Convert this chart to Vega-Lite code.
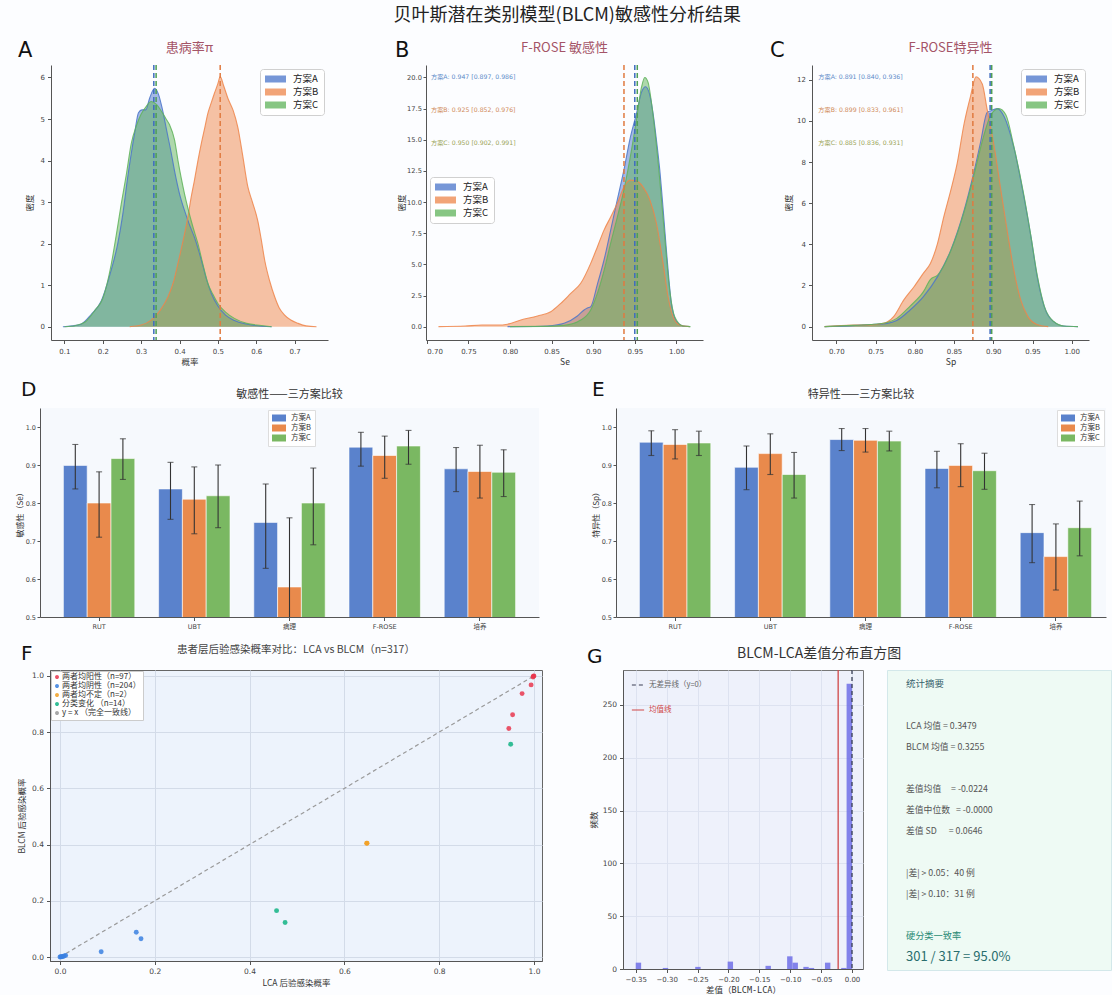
{
"$schema": "https://vega.github.io/schema/vega-lite/v6.json",
"background": "#fcfdff",
"padding": {"left": 15, "top": 7, "right": 0, "bottom": 0},
"title": {"text": "贝叶斯潜在类别模型(BLCM)敏感性分析结果", "font": "Noto Sans CJK SC", "fontSize": 18, "fontWeight": "normal", "color": "#222", "anchor": "middle", "offset": 15, "dx": 4},
"spacing": 14,
"resolve": {"scale": {"color": "independent", "stroke": "independent", "fill": "independent", "strokeDash": "independent", "size": "independent", "xOffset": "independent"}},
"config": {
  "view": {"stroke": null},
  "font": "DejaVu Sans, Noto Sans CJK SC",
  "axis": {"labelFont": "DejaVu Sans, Noto Sans CJK SC", "titleFont": "Noto Sans CJK SC", "labelFontSize": 7, "titleFontSize": 8.5, "titleFontWeight": "normal", "labelColor": "#444", "titleColor": "#333", "domainColor": "#555", "tickColor": "#555", "tickSize": 3.5, "grid": false, "labelPadding": 3, "titlePadding": 3},
  "title": {"font": "Noto Sans CJK SC", "fontWeight": "normal"},
  "legend": {"labelFont": "Noto Sans CJK SC", "titleFont": "Noto Sans CJK SC"}
},
"datasets": {
  "dA": [
    {"s":"方案A","x":0.096,"y":0},{"s":"方案A","x":0.12,"y":0.02},{"s":"方案A","x":0.143,"y":0.06},{"s":"方案A","x":0.17,"y":0.3},{"s":"方案A","x":0.196,"y":0.62},{"s":"方案A","x":0.22,"y":1.3},{"s":"方案A","x":0.239,"y":2.0},{"s":"方案A","x":0.252,"y":2.7},{"s":"方案A","x":0.265,"y":3.6},{"s":"方案A","x":0.283,"y":4.66},{"s":"方案A","x":0.293,"y":5.15},{"s":"方案A","x":0.302,"y":5.22},{"s":"方案A","x":0.312,"y":5.22},{"s":"方案A","x":0.322,"y":5.5},{"s":"方案A","x":0.335,"y":5.74},{"s":"方案A","x":0.345,"y":5.6},{"s":"方案A","x":0.355,"y":5.25},{"s":"方案A","x":0.367,"y":4.7},{"s":"方案A","x":0.378,"y":4.2},{"s":"方案A","x":0.387,"y":3.75},{"s":"方案A","x":0.4,"y":3.2},{"s":"方案A","x":0.413,"y":2.8},{"s":"方案A","x":0.426,"y":2.45},{"s":"方案A","x":0.439,"y":2.15},{"s":"方案A","x":0.457,"y":1.6},{"s":"方案A","x":0.47,"y":1.15},{"s":"方案A","x":0.483,"y":0.8},{"s":"方案A","x":0.5,"y":0.5},{"s":"方案A","x":0.52,"y":0.28},{"s":"方案A","x":0.543,"y":0.15},{"s":"方案A","x":0.57,"y":0.07},{"s":"方案A","x":0.596,"y":0.03},{"s":"方案A","x":0.64,"y":0},
    {"s":"方案B","x":0.27,"y":0},{"s":"方案B","x":0.3,"y":0.04},{"s":"方案B","x":0.326,"y":0.16},{"s":"方案B","x":0.35,"y":0.4},{"s":"方案B","x":0.37,"y":0.72},{"s":"方案B","x":0.385,"y":1.1},{"s":"方案B","x":0.396,"y":1.53},{"s":"方案B","x":0.41,"y":2.1},{"s":"方案B","x":0.422,"y":2.65},{"s":"方案B","x":0.43,"y":3.1},{"s":"方案B","x":0.439,"y":3.53},{"s":"方案B","x":0.448,"y":4.0},{"s":"方案B","x":0.457,"y":4.42},{"s":"方案B","x":0.466,"y":4.8},{"s":"方案B","x":0.474,"y":5.14},{"s":"方案B","x":0.483,"y":5.4},{"s":"方案B","x":0.491,"y":5.62},{"s":"方案B","x":0.5,"y":5.85},{"s":"方案B","x":0.506,"y":6.02},{"s":"方案B","x":0.515,"y":5.8},{"s":"方案B","x":0.526,"y":5.5},{"s":"方案B","x":0.54,"y":5.2},{"s":"方案B","x":0.552,"y":4.8},{"s":"方案B","x":0.565,"y":4.1},{"s":"方案B","x":0.578,"y":3.37},{"s":"方案B","x":0.59,"y":3.0},{"s":"方案B","x":0.604,"y":2.55},{"s":"方案B","x":0.613,"y":2.1},{"s":"方案B","x":0.622,"y":1.6},{"s":"方案B","x":0.635,"y":1.1},{"s":"方案B","x":0.648,"y":0.72},{"s":"方案B","x":0.66,"y":0.45},{"s":"方案B","x":0.674,"y":0.28},{"s":"方案B","x":0.69,"y":0.16},{"s":"方案B","x":0.709,"y":0.08},{"s":"方案B","x":0.73,"y":0.02},{"s":"方案B","x":0.757,"y":0},
    {"s":"方案C","x":0.1,"y":0},{"s":"方案C","x":0.13,"y":0.03},{"s":"方案C","x":0.155,"y":0.12},{"s":"方案C","x":0.18,"y":0.4},{"s":"方案C","x":0.2,"y":0.68},{"s":"方案C","x":0.222,"y":1.5},{"s":"方案C","x":0.235,"y":2.2},{"s":"方案C","x":0.248,"y":2.95},{"s":"方案C","x":0.262,"y":3.7},{"s":"方案C","x":0.274,"y":4.4},{"s":"方案C","x":0.288,"y":4.85},{"s":"方案C","x":0.3,"y":5.12},{"s":"方案C","x":0.313,"y":5.3},{"s":"方案C","x":0.326,"y":5.42},{"s":"方案C","x":0.34,"y":5.35},{"s":"方案C","x":0.352,"y":5.2},{"s":"方案C","x":0.365,"y":5.0},{"s":"方案C","x":0.374,"y":4.86},{"s":"方案C","x":0.387,"y":4.5},{"s":"方案C","x":0.396,"y":4.0},{"s":"方案C","x":0.404,"y":3.6},{"s":"方案C","x":0.413,"y":3.2},{"s":"方案C","x":0.422,"y":2.85},{"s":"方案C","x":0.435,"y":2.4},{"s":"方案C","x":0.448,"y":2.0},{"s":"方案C","x":0.461,"y":1.5},{"s":"方案C","x":0.474,"y":1.04},{"s":"方案C","x":0.487,"y":0.78},{"s":"方案C","x":0.5,"y":0.56},{"s":"方案C","x":0.52,"y":0.35},{"s":"方案C","x":0.543,"y":0.2},{"s":"方案C","x":0.575,"y":0.08},{"s":"方案C","x":0.613,"y":0.03},{"s":"方案C","x":0.64,"y":0}
  ],
  "dB": [
    {"s":"方案A","x":0.797,"y":0},{"s":"方案A","x":0.83,"y":0.01},{"s":"方案A","x":0.845,"y":0.05},{"s":"方案A","x":0.865,"y":0.27},{"s":"方案A","x":0.881,"y":0.86},{"s":"方案A","x":0.889,"y":1.34},{"s":"方案A","x":0.893,"y":1.5},{"s":"方案A","x":0.897,"y":1.6},{"s":"方案A","x":0.905,"y":3.4},{"s":"方案A","x":0.913,"y":5.35},{"s":"方案A","x":0.921,"y":7.75},{"s":"方案A","x":0.929,"y":10.2},{"s":"方案A","x":0.937,"y":12.6},{"s":"方案A","x":0.944,"y":15.0},{"s":"方案A","x":0.952,"y":17.1},{"s":"方案A","x":0.958,"y":18.8},{"s":"方案A","x":0.963,"y":19.25},{"s":"方案A","x":0.968,"y":18.6},{"s":"方案A","x":0.972,"y":17.1},{"s":"方案A","x":0.976,"y":15.0},{"s":"方案A","x":0.98,"y":12.6},{"s":"方案A","x":0.984,"y":9.5},{"s":"方案A","x":0.988,"y":6.15},{"s":"方案A","x":0.991,"y":3.8},{"s":"方案A","x":0.994,"y":1.87},{"s":"方案A","x":0.997,"y":0.9},{"s":"方案A","x":1.0,"y":0.4},{"s":"方案A","x":1.008,"y":0.05},{"s":"方案A","x":1.016,"y":0},
    {"s":"方案B","x":0.714,"y":0},{"s":"方案B","x":0.746,"y":0.05},{"s":"方案B","x":0.766,"y":0.13},{"s":"方案B","x":0.785,"y":0.13},{"s":"方案B","x":0.797,"y":0.2},{"s":"方案B","x":0.813,"y":0.53},{"s":"方案B","x":0.833,"y":0.86},{"s":"方案B","x":0.849,"y":1.2},{"s":"方案B","x":0.861,"y":1.87},{"s":"方案B","x":0.873,"y":2.67},{"s":"方案B","x":0.885,"y":3.48},{"s":"方案B","x":0.897,"y":5.08},{"s":"方案B","x":0.905,"y":6.4},{"s":"方案B","x":0.913,"y":7.75},{"s":"方案B","x":0.921,"y":8.8},{"s":"方案B","x":0.929,"y":9.9},{"s":"方案B","x":0.937,"y":11.2},{"s":"方案B","x":0.944,"y":11.76},{"s":"方案B","x":0.952,"y":11.7},{"s":"方案B","x":0.96,"y":11.2},{"s":"方案B","x":0.968,"y":10.2},{"s":"方案B","x":0.976,"y":8.3},{"s":"方案B","x":0.984,"y":5.1},{"s":"方案B","x":0.99,"y":2.4},{"s":"方案B","x":0.996,"y":0.8},{"s":"方案B","x":1.004,"y":0.13},{"s":"方案B","x":1.016,"y":0},
    {"s":"方案C","x":0.8,"y":0},{"s":"方案C","x":0.84,"y":0.02},{"s":"方案C","x":0.865,"y":0.1},{"s":"方案C","x":0.885,"y":0.53},{"s":"方案C","x":0.897,"y":1.34},{"s":"方案C","x":0.905,"y":2.67},{"s":"方案C","x":0.913,"y":4.5},{"s":"方案C","x":0.921,"y":6.7},{"s":"方案C","x":0.929,"y":8.8},{"s":"方案C","x":0.937,"y":11.0},{"s":"方案C","x":0.944,"y":13.4},{"s":"方案C","x":0.952,"y":16.6},{"s":"方案C","x":0.958,"y":19.2},{"s":"方案C","x":0.962,"y":20.0},{"s":"方案C","x":0.966,"y":19.6},{"s":"方案C","x":0.97,"y":18.0},{"s":"方案C","x":0.974,"y":15.8},{"s":"方案C","x":0.98,"y":11.8},{"s":"方案C","x":0.986,"y":7.2},{"s":"方案C","x":0.992,"y":2.9},{"s":"方案C","x":0.998,"y":0.8},{"s":"方案C","x":1.008,"y":0.05},{"s":"方案C","x":1.017,"y":0}
  ],
  "dC": [
    {"s":"方案A","x":0.685,"y":0},{"s":"方案A","x":0.72,"y":0.05},{"s":"方案A","x":0.743,"y":0.1},{"s":"方案A","x":0.765,"y":0.16},{"s":"方案A","x":0.777,"y":0.3},{"s":"方案A","x":0.794,"y":0.81},{"s":"方案A","x":0.811,"y":1.46},{"s":"方案A","x":0.829,"y":2.43},{"s":"方案A","x":0.846,"y":3.73},{"s":"方案A","x":0.863,"y":5.67},{"s":"方案A","x":0.875,"y":7.46},{"s":"方案A","x":0.884,"y":9.0},{"s":"方案A","x":0.892,"y":10.4},{"s":"方案A","x":0.897,"y":10.5},{"s":"方案A","x":0.905,"y":10.6},{"s":"方案A","x":0.914,"y":10.2},{"s":"方案A","x":0.926,"y":8.75},{"s":"方案A","x":0.939,"y":6.32},{"s":"方案A","x":0.948,"y":4.38},{"s":"方案A","x":0.956,"y":2.43},{"s":"方案A","x":0.965,"y":0.97},{"s":"方案A","x":0.977,"y":0.24},{"s":"方案A","x":0.99,"y":0.03},{"s":"方案A","x":1.008,"y":0},
    {"s":"方案B","x":0.685,"y":0},{"s":"方案B","x":0.722,"y":0.08},{"s":"方案B","x":0.743,"y":0.08},{"s":"方案B","x":0.76,"y":0.16},{"s":"方案B","x":0.773,"y":0.49},{"s":"方案B","x":0.786,"y":1.3},{"s":"方案B","x":0.799,"y":1.94},{"s":"方案B","x":0.811,"y":2.6},{"s":"方案B","x":0.82,"y":3.08},{"s":"方案B","x":0.829,"y":4.05},{"s":"方案B","x":0.837,"y":5.35},{"s":"方案B","x":0.846,"y":6.65},{"s":"方案B","x":0.854,"y":7.94},{"s":"方案B","x":0.863,"y":9.9},{"s":"方案B","x":0.871,"y":11.2},{"s":"方案B","x":0.878,"y":12.15},{"s":"方案B","x":0.886,"y":11.8},{"s":"方案B","x":0.892,"y":10.6},{"s":"方案B","x":0.901,"y":8.8},{"s":"方案B","x":0.909,"y":6.8},{"s":"方案B","x":0.918,"y":4.6},{"s":"方案B","x":0.926,"y":2.8},{"s":"方案B","x":0.935,"y":1.3},{"s":"方案B","x":0.944,"y":0.5},{"s":"方案B","x":0.955,"y":0.12},{"s":"方案B","x":0.97,"y":0},
    {"s":"方案C","x":0.685,"y":0},{"s":"方案C","x":0.72,"y":0.06},{"s":"方案C","x":0.743,"y":0.1},{"s":"方案C","x":0.765,"y":0.2},{"s":"方案C","x":0.777,"y":0.4},{"s":"方案C","x":0.794,"y":1.0},{"s":"方案C","x":0.811,"y":1.7},{"s":"方案C","x":0.82,"y":2.3},{"s":"方案C","x":0.829,"y":2.5},{"s":"方案C","x":0.846,"y":3.7},{"s":"方案C","x":0.863,"y":5.6},{"s":"方案C","x":0.875,"y":7.3},{"s":"方案C","x":0.888,"y":9.3},{"s":"方案C","x":0.897,"y":10.3},{"s":"方案C","x":0.907,"y":10.6},{"s":"方案C","x":0.916,"y":10.3},{"s":"方案C","x":0.926,"y":8.8},{"s":"方案C","x":0.939,"y":6.4},{"s":"方案C","x":0.948,"y":4.4},{"s":"方案C","x":0.956,"y":2.5},{"s":"方案C","x":0.965,"y":1.0},{"s":"方案C","x":0.977,"y":0.25},{"s":"方案C","x":0.99,"y":0.03},{"s":"方案C","x":1.008,"y":0}
  ],
  "mA": [{"s":"方案A","x":0.333},{"s":"方案B","x":0.506},{"s":"方案C","x":0.339}],
  "mB": [{"s":"方案A","x":0.95},{"s":"方案B","x":0.937},{"s":"方案C","x":0.953}],
  "mC": [{"s":"方案A","x":0.896},{"s":"方案B","x":0.874},{"s":"方案C","x":0.898}],
  "tB": [{"s":"方案A","label":"方案A: 0.947 [0.897, 0.986]"},{"s":"方案B","label":"方案B: 0.925 [0.852, 0.976]"},{"s":"方案C","label":"方案C: 0.950 [0.902, 0.991]"}],
  "tC": [{"s":"方案A","label":"方案A: 0.891 [0.840, 0.936]"},{"s":"方案B","label":"方案B: 0.899 [0.833, 0.961]"},{"s":"方案C","label":"方案C: 0.885 [0.836, 0.931]"}],
  "se": [
    {"cat":"RUT","s":"方案A","v":0.899,"lo":0.837,"hi":0.954},{"cat":"RUT","s":"方案B","v":0.8,"lo":0.71,"hi":0.882},{"cat":"RUT","s":"方案C","v":0.917,"lo":0.862,"hi":0.969},
    {"cat":"UBT","s":"方案A","v":0.837,"lo":0.757,"hi":0.907},{"cat":"UBT","s":"方案B","v":0.81,"lo":0.719,"hi":0.895},{"cat":"UBT","s":"方案C","v":0.819,"lo":0.735,"hi":0.9},
    {"cat":"病理","s":"方案A","v":0.749,"lo":0.628,"hi":0.85},{"cat":"病理","s":"方案B","v":0.579,"lo":0.4,"hi":0.761},{"cat":"病理","s":"方案C","v":0.8,"lo":0.69,"hi":0.892},
    {"cat":"F-ROSE","s":"方案A","v":0.947,"lo":0.897,"hi":0.986},{"cat":"F-ROSE","s":"方案B","v":0.925,"lo":0.865,"hi":0.976},{"cat":"F-ROSE","s":"方案C","v":0.95,"lo":0.902,"hi":0.991},
    {"cat":"培养","s":"方案A","v":0.89,"lo":0.83,"hi":0.946},{"cat":"培养","s":"方案B","v":0.883,"lo":0.813,"hi":0.952},{"cat":"培养","s":"方案C","v":0.881,"lo":0.817,"hi":0.94}
  ],
  "sp": [
    {"cat":"RUT","s":"方案A","v":0.96,"lo":0.925,"hi":0.99},{"cat":"RUT","s":"方案B","v":0.954,"lo":0.916,"hi":0.993},{"cat":"RUT","s":"方案C","v":0.958,"lo":0.925,"hi":0.989},
    {"cat":"UBT","s":"方案A","v":0.894,"lo":0.835,"hi":0.95},{"cat":"UBT","s":"方案B","v":0.93,"lo":0.875,"hi":0.982},{"cat":"UBT","s":"方案C","v":0.875,"lo":0.813,"hi":0.933},
    {"cat":"病理","s":"方案A","v":0.967,"lo":0.938,"hi":0.996},{"cat":"病理","s":"方案B","v":0.965,"lo":0.934,"hi":0.996},{"cat":"病理","s":"方案C","v":0.963,"lo":0.937,"hi":0.989},
    {"cat":"F-ROSE","s":"方案A","v":0.891,"lo":0.84,"hi":0.936},{"cat":"F-ROSE","s":"方案B","v":0.899,"lo":0.843,"hi":0.956},{"cat":"F-ROSE","s":"方案C","v":0.885,"lo":0.836,"hi":0.931},
    {"cat":"培养","s":"方案A","v":0.722,"lo":0.643,"hi":0.796},{"cat":"培养","s":"方案B","v":0.659,"lo":0.571,"hi":0.745},{"cat":"培养","s":"方案C","v":0.735,"lo":0.661,"hi":0.805}
  ],
  "pts": [
    {"g":"两者均阳性（n=97）","x":1.0,"y":1.0},{"g":"两者均阳性（n=97）","x":0.999,"y":0.999},{"g":"两者均阳性（n=97）","x":0.998,"y":0.996},{"g":"两者均阳性（n=97）","x":0.994,"y":0.968},{"g":"两者均阳性（n=97）","x":0.975,"y":0.937},{"g":"两者均阳性（n=97）","x":0.955,"y":0.862},{"g":"两者均阳性（n=97）","x":0.947,"y":0.813},
    {"g":"两者均阴性（n=204）","x":0.0,"y":0.0},{"g":"两者均阴性（n=204）","x":0.002,"y":0.001},{"g":"两者均阴性（n=204）","x":0.004,"y":0.001},{"g":"两者均阴性（n=204）","x":0.006,"y":0.002},{"g":"两者均阴性（n=204）","x":0.009,"y":0.004},{"g":"两者均阴性（n=204）","x":0.012,"y":0.006},{"g":"两者均阴性（n=204）","x":0.087,"y":0.019},{"g":"两者均阴性（n=204）","x":0.161,"y":0.088},{"g":"两者均阴性（n=204）","x":0.171,"y":0.065},
    {"g":"两者均不定（n=2）","x":0.647,"y":0.405},{"g":"两者均不定（n=2）","x":0.648,"y":0.405},
    {"g":"分类变化 （n=14）","x":0.951,"y":0.757},{"g":"分类变化 （n=14）","x":0.457,"y":0.165},{"g":"分类变化 （n=14）","x":0.475,"y":0.123}
  ],
  "diag": [{"g":"y = x （完全一致线）","x":0,"y":0},{"g":"y = x （完全一致线）","x":1,"y":1}],
  "hist": [
    {"b0":-0.35,"b1":-0.34125,"n":6},{"b0":-0.30625,"b1":-0.2975,"n":1},{"b0":-0.25375,"b1":-0.245,"n":2},{"b0":-0.20125,"b1":-0.1925,"n":7},{"b0":-0.14,"b1":-0.13125,"n":3},{"b0":-0.105,"b1":-0.09625,"n":12},{"b0":-0.09625,"b1":-0.0875,"n":6},{"b0":-0.07875,"b1":-0.07,"n":2},{"b0":-0.07,"b1":-0.06125,"n":1},{"b0":-0.04375,"b1":-0.035,"n":6},{"b0":-0.0175,"b1":-0.00875,"n":1},{"b0":-0.00875,"b1":0.0,"n":270}
  ],
  "glines": [{"name":"无差异线（y=0）","b0":0.0},{"name":"均值线","b0":-0.0224}],
  "summary": [
    {"line":0,"kind":"head","text":"统计摘要"},
    {"line":2,"kind":"body","text":"LCA 均值 = 0.3479"},
    {"line":3,"kind":"body","text":"BLCM 均值 = 0.3255"},
    {"line":5,"kind":"body","text":"差值均值\u00a0\u00a0\u00a0\u00a0 = -0.0224"},
    {"line":6,"kind":"body","text":"差值中位数\u00a0\u00a0 = -0.0000"},
    {"line":7,"kind":"body","text":"差值 SD\u00a0\u00a0\u00a0\u00a0\u00a0 = 0.0646"},
    {"line":9,"kind":"body","text":"|差| > 0.05：40 例"},
    {"line":10,"kind":"body","text":"|差| > 0.10：31 例"},
    {"line":12,"kind":"sub","text":"硬分类一致率"},
    {"line":13,"kind":"res","text":"301 / 317 = 95.0%"}
  ]
},
"vconcat": [
  {
    "spacing": 2,
    "resolve": {"scale": {"color": "independent", "stroke": "independent", "fill": "independent"}},
    "hconcat": [
      {"width": 1, "height": 1, "data": {"values": []}, "mark": "point"},
      {
        "spacing": 67,
        "resolve": {"scale": {"color": "independent", "stroke": "independent", "fill": "independent"}},
        "hconcat": [
          {
            "title": {"text": "A", "anchor": "start", "frame": "bounds", "font": "DejaVu Sans", "fontSize": 21, "fontWeight": "normal", "color": "#111", "dx": -7, "dy": 19, "offset": 0},
            "resolve": {"scale": {"color": "independent", "stroke": "independent", "fill": "independent"}},
            "vconcat": [{
              "width": 277, "height": 275,
              "title": {"text": "患病率π", "fontSize": 13, "color": "#a45467", "offset": 9},
              "layer": [
                {"data": {"name": "dA"}, "mark": {"type": "area", "interpolate": "monotone", "fillOpacity": 0.5, "line": {"strokeWidth": 1.1, "strokeOpacity": 0.85}},
                 "encoding": {
                   "x": {"field": "x", "type": "quantitative", "scale": {"domain": [0.065, 0.787], "nice": false, "zero": false}, "axis": {"values": [0.1,0.2,0.3,0.4,0.5,0.6,0.7], "format": ".1f", "title": "概率", "labelPadding": 4}},
                   "y": {"field": "y", "type": "quantitative", "stack": null, "scale": {"domain": [-0.32, 6.3], "nice": false, "zero": false}, "axis": {"values": [0,1,2,3,4,5,6], "format": "d", "title": "密度", "minExtent": 13, "maxExtent": 13, "titlePadding": 4}},
                   "color": {"field": "s", "type": "nominal", "scale": {"domain": ["方案A","方案B","方案C"], "range": ["#4a74c9","#ee854a","#5fb35a"]},
                     "legend": {"title": null, "orient": "top-right", "offset": 4, "fillColor": "#ffffff", "strokeColor": "#d0d0d0", "padding": 5, "cornerRadius": 3, "symbolType": "M-1,-0.7H3.2V0.7H-1Z", "symbolSize": 100, "symbolOpacity": 0.75, "symbolStrokeWidth": 0, "labelOffset": 18, "labelFontSize": 9.5, "labelColor": "#222", "rowPadding": 3}}
                 }},
                {"data": {"name": "mA"}, "mark": {"type": "rule", "strokeDash": [5, 3], "strokeWidth": 1.5},
                 "encoding": {"x": {"field": "x", "type": "quantitative"}, "stroke": {"field": "s", "type": "nominal", "scale": {"domain": ["方案A","方案B","方案C"], "range": ["#3f6cc0","#e07a40","#4f9f55"]}, "legend": null}}}
              ]
            }]
          },
          {
            "title": {"text": "B", "anchor": "start", "frame": "bounds", "font": "DejaVu Sans", "fontSize": 21, "fontWeight": "normal", "color": "#111", "dx": -2, "dy": 19, "offset": 0},
            "resolve": {"scale": {"color": "independent", "stroke": "independent", "fill": "independent"}},
            "vconcat": [{
              "width": 277, "height": 275,
              "title": {"text": "F-ROSE 敏感性", "fontSize": 13, "color": "#a45467", "offset": 9},
              "resolve": {"scale": {"y": "independent"}, "axis": {"y": "independent"}},
              "layer": [
                {"data": {"name": "dB"}, "mark": {"type": "area", "interpolate": "monotone", "fillOpacity": 0.5, "line": {"strokeWidth": 1.1, "strokeOpacity": 0.85}},
                 "encoding": {
                   "x": {"field": "x", "type": "quantitative", "scale": {"domain": [0.699, 1.032], "nice": false, "zero": false}, "axis": {"values": [0.7,0.75,0.8,0.85,0.9,0.95,1.0], "format": ".2f", "title": "Se", "labelPadding": 4}},
                   "y": {"field": "y", "type": "quantitative", "stack": null, "scale": {"domain": [-1.07, 21.0], "nice": false, "zero": false}, "axis": {"values": [0,2.5,5,7.5,10,12.5,15,17.5,20], "format": ".1f", "title": "密度", "labelFontSize": 6.7, "tickSize": 3, "labelPadding": 1.5, "minExtent": 19, "maxExtent": 19, "titlePadding": 1}},
                   "color": {"field": "s", "type": "nominal", "scale": {"domain": ["方案A","方案B","方案C"], "range": ["#4a74c9","#ee854a","#5fb35a"]},
                     "legend": {"title": null, "orient": "none", "legendX": 4, "legendY": 112, "fillColor": "#ffffff", "strokeColor": "#d0d0d0", "padding": 5, "cornerRadius": 3, "symbolType": "M-1,-0.7H3.2V0.7H-1Z", "symbolSize": 100, "symbolOpacity": 0.75, "symbolStrokeWidth": 0, "labelOffset": 18, "labelFontSize": 9.5, "labelColor": "#222", "rowPadding": 3}}
                 }},
                {"data": {"name": "mB"}, "mark": {"type": "rule", "strokeDash": [5, 3], "strokeWidth": 1.5},
                 "encoding": {"x": {"field": "x", "type": "quantitative"}, "stroke": {"field": "s", "type": "nominal", "scale": {"domain": ["方案A","方案B","方案C"], "range": ["#3f6cc0","#e07a40","#4f9f55"]}, "legend": null}}},
                {"data": {"name": "tB"}, "mark": {"type": "text", "align": "left", "baseline": "middle", "fontSize": 6.2},
                 "encoding": {"x": {"datum": 0.705, "type": "quantitative"}, "y": {"field": "s", "type": "nominal", "scale": {"type": "point", "padding": 0, "domain": ["方案A","方案B","方案C"], "range": [12, 78]}, "axis": null}, "text": {"field": "label"},
                   "fill": {"field": "s", "type": "nominal", "scale": {"domain": ["方案A","方案B","方案C"], "range": ["#5b8ac8","#d08a58","#9aa456"]}, "legend": null}}}
              ]
            }]
          },
          {
            "title": {"text": "C", "anchor": "start", "frame": "bounds", "font": "DejaVu Sans", "fontSize": 21, "fontWeight": "normal", "color": "#111", "dx": -14, "dy": 19, "offset": 0},
            "resolve": {"scale": {"color": "independent", "stroke": "independent", "fill": "independent"}},
            "vconcat": [{
              "width": 277, "height": 275,
              "title": {"text": "F-ROSE特异性", "fontSize": 13, "color": "#a45467", "offset": 9},
              "resolve": {"scale": {"y": "independent"}, "axis": {"y": "independent"}},
              "layer": [
                {"data": {"name": "dC"}, "mark": {"type": "area", "interpolate": "monotone", "fillOpacity": 0.5, "line": {"strokeWidth": 1.1, "strokeOpacity": 0.85}},
                 "encoding": {
                   "x": {"field": "x", "type": "quantitative", "scale": {"domain": [0.669, 1.022], "nice": false, "zero": false}, "axis": {"values": [0.7,0.75,0.8,0.85,0.9,0.95,1.0], "format": ".2f", "title": "Sp", "labelPadding": 4}},
                   "y": {"field": "y", "type": "quantitative", "stack": null, "scale": {"domain": [-0.65, 12.72], "nice": false, "zero": false}, "axis": {"values": [0,2,4,6,8,10,12], "format": "d", "title": "密度", "minExtent": 14, "maxExtent": 14, "titlePadding": 5}},
                   "color": {"field": "s", "type": "nominal", "scale": {"domain": ["方案A","方案B","方案C"], "range": ["#4a74c9","#ee854a","#5fb35a"]},
                     "legend": {"title": null, "orient": "top-right", "offset": 4, "fillColor": "#ffffff", "strokeColor": "#d0d0d0", "padding": 5, "cornerRadius": 3, "symbolType": "M-1,-0.7H3.2V0.7H-1Z", "symbolSize": 100, "symbolOpacity": 0.75, "symbolStrokeWidth": 0, "labelOffset": 18, "labelFontSize": 9.5, "labelColor": "#222", "rowPadding": 3}}
                 }},
                {"data": {"name": "mC"}, "mark": {"type": "rule", "strokeDash": [5, 3], "strokeWidth": 1.5},
                 "encoding": {"x": {"field": "x", "type": "quantitative"}, "stroke": {"field": "s", "type": "nominal", "scale": {"domain": ["方案A","方案B","方案C"], "range": ["#3f6cc0","#e07a40","#4f9f55"]}, "legend": null}}},
                {"data": {"name": "tC"}, "mark": {"type": "text", "align": "left", "baseline": "middle", "fontSize": 6.2},
                 "encoding": {"x": {"datum": 0.677, "type": "quantitative"}, "y": {"field": "s", "type": "nominal", "scale": {"type": "point", "padding": 0, "domain": ["方案A","方案B","方案C"], "range": [12, 78]}, "axis": null}, "text": {"field": "label"},
                   "fill": {"field": "s", "type": "nominal", "scale": {"domain": ["方案A","方案B","方案C"], "range": ["#5b8ac8","#d08a58","#9aa456"]}, "legend": null}}}
              ]
            }]
          }
        ]
      }
    ]
  },
  {
    "spacing": 0,
    "resolve": {"scale": {"color": "independent", "xOffset": "independent"}},
    "hconcat": [
      {"width": 1, "height": 1, "data": {"values": []}, "mark": "point"},
      {
        "spacing": 53,
        "resolve": {"scale": {"color": "independent", "xOffset": "independent"}},
        "hconcat": [
          {
            "title": {"text": "D", "anchor": "start", "frame": "bounds", "font": "DejaVu Sans", "fontSize": 20, "fontWeight": "normal", "color": "#111", "dx": 5, "dy": 11, "offset": 0},
            "resolve": {"scale": {"color": "independent", "xOffset": "independent"}},
            "vconcat": [{
              "width": 499, "height": 209,
              "view": {"fill": "#f6f9fd", "stroke": null},
              "title": {"text": "敏感性——三方案比较", "fontSize": 11, "color": "#333", "offset": 8},
              "data": {"name": "se"},
              "encoding": {
                "x": {"field": "cat", "type": "nominal", "sort": ["RUT","UBT","病理","F-ROSE","培养"], "scale": {"paddingInner": 0.25, "paddingOuter": 0.2458}, "axis": {"title": null, "labelAngle": 0, "labelFontSize": 6.5}},
                "xOffset": {"field": "s", "type": "nominal", "sort": ["方案A","方案B","方案C"], "scale": {"paddingInner": 0, "paddingOuter": 0}}
              },
              "layer": [
                {"mark": {"type": "bar", "stroke": "#ffffff", "strokeWidth": 0.6, "clip": true},
                 "encoding": {"y": {"field": "v", "type": "quantitative", "title": "敏感性（Se）", "scale": {"domain": [0.5, 1.05], "nice": false, "zero": false}, "axis": {"values": [0.5,0.6,0.7,0.8,0.9,1.0], "format": ".1f", "labelFontSize": 6.5, "titleFontSize": 8, "tickSize": 3, "labelPadding": 1.5, "minExtent": 14.5, "maxExtent": 14.5, "titlePadding": 1.5}},
                   "color": {"field": "s", "type": "nominal", "scale": {"domain": ["方案A","方案B","方案C"], "range": ["#5a82cc","#e98a4c","#7ab862"]},
                     "legend": {"title": null, "orient": "none", "legendX": 228, "legendY": 2, "fillColor": "#ffffff", "strokeColor": "#dddddd", "padding": 4, "symbolType": "M-1,-0.875H2.5V0.875H-1Z", "symbolSize": 64, "symbolStrokeWidth": 0, "labelOffset": 11, "labelFontSize": 7.5, "labelColor": "#333", "rowPadding": 2}}}},
                {"mark": {"type": "rule", "color": "#333333", "strokeWidth": 1.1, "clip": true},
                 "encoding": {"y": {"field": "lo", "type": "quantitative", "title": "敏感性（Se）"}, "y2": {"field": "hi"}}},
                {"mark": {"type": "tick", "color": "#333333", "size": 6, "thickness": 1.1, "orient": "horizontal", "clip": true},
                 "encoding": {"y": {"field": "lo", "type": "quantitative", "title": "敏感性（Se）"}}},
                {"mark": {"type": "tick", "color": "#333333", "size": 6, "thickness": 1.1, "orient": "horizontal", "clip": true},
                 "encoding": {"y": {"field": "hi", "type": "quantitative", "title": "敏感性（Se）"}}}
              ]
            }]
          },
          {
            "title": {"text": "E", "anchor": "start", "frame": "bounds", "font": "DejaVu Sans", "fontSize": 20, "fontWeight": "normal", "color": "#111", "dx": 0, "dy": 11, "offset": 0},
            "resolve": {"scale": {"color": "independent", "xOffset": "independent"}},
            "vconcat": [{
              "width": 490, "height": 209,
              "view": {"fill": "#f6f9fd", "stroke": null},
              "title": {"text": "特异性——三方案比较", "fontSize": 11, "color": "#333", "offset": 8},
              "data": {"name": "sp"},
              "encoding": {
                "x": {"field": "cat", "type": "nominal", "sort": ["RUT","UBT","病理","F-ROSE","培养"], "scale": {"paddingInner": 0.25, "paddingOuter": 0.1985, "align": 0.619}, "axis": {"title": null, "labelAngle": 0, "labelFontSize": 6.5}},
                "xOffset": {"field": "s", "type": "nominal", "sort": ["方案A","方案B","方案C"], "scale": {"paddingInner": 0, "paddingOuter": 0}}
              },
              "layer": [
                {"mark": {"type": "bar", "stroke": "#ffffff", "strokeWidth": 0.6, "clip": true},
                 "encoding": {"y": {"field": "v", "type": "quantitative", "title": "特异性（Sp）", "scale": {"domain": [0.5, 1.05], "nice": false, "zero": false}, "axis": {"values": [0.5,0.6,0.7,0.8,0.9,1.0], "format": ".1f", "labelFontSize": 6.5, "titleFontSize": 8, "tickSize": 3, "labelPadding": 1.5, "minExtent": 14.5, "maxExtent": 14.5, "titlePadding": 1.5}},
                   "color": {"field": "s", "type": "nominal", "scale": {"domain": ["方案A","方案B","方案C"], "range": ["#5a82cc","#e98a4c","#7ab862"]},
                     "legend": {"title": null, "orient": "top-right", "offset": 2, "fillColor": "#ffffff", "strokeColor": "#dddddd", "padding": 4, "symbolType": "M-1,-0.875H2.5V0.875H-1Z", "symbolSize": 64, "symbolStrokeWidth": 0, "labelOffset": 11, "labelFontSize": 7.5, "labelColor": "#333", "rowPadding": 2}}}},
                {"mark": {"type": "rule", "color": "#333333", "strokeWidth": 1.1, "clip": true},
                 "encoding": {"y": {"field": "lo", "type": "quantitative", "title": "特异性（Sp）"}, "y2": {"field": "hi"}}},
                {"mark": {"type": "tick", "color": "#333333", "size": 6, "thickness": 1.1, "orient": "horizontal", "clip": true},
                 "encoding": {"y": {"field": "lo", "type": "quantitative", "title": "特异性（Sp）"}}},
                {"mark": {"type": "tick", "color": "#333333", "size": 6, "thickness": 1.1, "orient": "horizontal", "clip": true},
                 "encoding": {"y": {"field": "hi", "type": "quantitative", "title": "特异性（Sp）"}}}
              ]
            }]
          }
        ]
      }
    ]
  },
  {
    "spacing": 1,
    "resolve": {"scale": {"color": "independent", "strokeDash": "independent", "size": "independent"}},
    "hconcat": [
      {"width": 1, "height": 1, "data": {"values": []}, "mark": "point"},
      {
        "spacing": 44,
        "resolve": {"scale": {"color": "independent", "strokeDash": "independent", "size": "independent"}},
        "hconcat": [
          {
            "title": {"text": "F", "anchor": "start", "frame": "bounds", "font": "DejaVu Sans", "fontSize": 20, "fontWeight": "normal", "color": "#111", "dx": 4, "dy": 20, "offset": 0},
            "resolve": {"scale": {"color": "independent"}},
            "vconcat": [{
              "width": 492, "height": 291,
              "view": {"fill": "#edf3fc", "stroke": "#666666", "strokeWidth": 1},
              "title": {"text": "患者层后验感染概率对比：LCA vs BLCM（n=317）", "fontSize": 10.5, "color": "#444", "offset": 15},
              "layer": [
                {"data": {"name": "diag"}, "mark": {"type": "line", "strokeDash": [4, 3], "strokeWidth": 1.2},
                 "encoding": {
                   "x": {"field": "x", "type": "quantitative", "scale": {"domain": [-0.021, 1.017], "nice": false, "zero": false}, "axis": {"values": [0,0.2,0.4,0.6,0.8,1.0], "format": ".1f", "title": "LCA 后验感染概率", "grid": true, "gridColor": "#d3dbe8", "labelFontSize": 7.5, "titleFontSize": 8.5}},
                   "y": {"field": "y", "type": "quantitative", "scale": {"domain": [-0.014, 1.021], "nice": false, "zero": false}, "axis": {"values": [0,0.2,0.4,0.6,0.8,1.0], "format": ".1f", "title": "BLCM 后验感染概率", "grid": true, "gridColor": "#d3dbe8", "labelFontSize": 7.5, "titleFontSize": 8.5, "minExtent": 19, "maxExtent": 19, "titlePadding": 4.5}},
                   "color": {"field": "g", "type": "nominal", "scale": {"domain": ["两者均阳性（n=97）","两者均阴性（n=204）","两者均不定（n=2）","分类变化 （n=14）","y = x （完全一致线）"], "range": ["#e8364e","#3a80e0","#f2a024","#12b384","#9a9a9a"]},
                     "legend": {"title": null, "orient": "top-left", "offset": 1, "fillColor": "#ffffff", "strokeColor": "#cccccc", "padding": 2, "symbolSize": 6, "labelFontSize": 8, "labelColor": "#333", "rowPadding": -2, "labelOffset": 1}}
                 }},
                {"data": {"name": "pts"}, "mark": {"type": "circle", "size": 24, "opacity": 0.85},
                 "encoding": {"x": {"field": "x", "type": "quantitative"}, "y": {"field": "y", "type": "quantitative"}, "color": {"field": "g", "type": "nominal"}}}
              ]
            }]
          },
          {
            "title": {"text": "G", "anchor": "start", "frame": "bounds", "font": "DejaVu Sans", "fontSize": 20, "fontWeight": "normal", "color": "#111", "dx": -2, "dy": 20, "offset": 0},
            "resolve": {"scale": {"color": "independent", "strokeDash": "independent", "size": "independent"}},
            "vconcat": [{
              "title": {"text": "BLCM-LCA差值分布直方图", "anchor": "start", "frame": "bounds", "dx": 148, "fontSize": 14, "color": "#333", "offset": 8},
              "spacing": 22,
              "resolve": {"scale": {"color": "independent", "strokeDash": "independent", "size": "independent"}},
              "hconcat": [
                {
                  "width": 240, "height": 299,
                  "view": {"fill": "#eef1fb", "stroke": "#777777", "strokeWidth": 1},
                  "layer": [
                    {"data": {"name": "hist"}, "mark": {"type": "rect", "color": "#6e6ee6", "opacity": 0.85},
                     "encoding": {
                       "x": {"field": "b0", "type": "quantitative", "scale": {"domain": [-0.3706, 0.0178], "nice": false, "zero": false}, "axis": {"values": [-0.35,-0.3,-0.25,-0.2,-0.15,-0.1,-0.05,0], "format": ".2f", "labelOverlap": false, "labelSeparation": 0, "title": "差值（BLCM-LCA）", "titleFont": "DejaVu Sans Mono, Noto Sans CJK SC", "grid": true, "gridColor": "#dde2f0", "labelFontSize": 7, "titleFontSize": 8.5}},
                       "x2": {"field": "b1"},
                       "y": {"field": "n", "type": "quantitative", "scale": {"domain": [0, 283], "nice": false}, "axis": {"values": [0,50,100,150,200,250], "title": "频数", "grid": true, "gridColor": "#dde2f0", "labelFontSize": 7.5, "titleFontSize": 8.5, "minExtent": 20, "maxExtent": 20, "titlePadding": 4.5}},
                       "y2": {"datum": 0}
                     }},
                    {"data": {"name": "glines"}, "mark": {"type": "rule", "strokeWidth": 1.3},
                     "encoding": {
                       "x": {"field": "b0", "type": "quantitative", "axis": {"values": [-0.35,-0.3,-0.25,-0.2,-0.15,-0.1,-0.05,0], "format": ".2f", "labelOverlap": false, "labelSeparation": 0, "title": "差值（BLCM-LCA）", "titleFont": "DejaVu Sans Mono, Noto Sans CJK SC", "grid": true, "gridColor": "#dde2f0", "labelFontSize": 7, "titleFontSize": 8.5}},
                       "color": {"field": "name", "type": "nominal", "scale": {"domain": ["无差异线（y=0）","均值线"], "range": ["#3a3f55","#d04848"]},
                         "legend": {"title": null, "orient": "top-left", "offset": 8, "symbolType": "stroke", "symbolSize": 150, "symbolStrokeWidth": 1.1, "labelFontSize": 7.5, "rowPadding": 14,
                           "encode": {"labels": {"update": {"fill": {"signal": "datum.label === '均值线' ? '#d04848' : '#666666'"}}}}}},
                       "strokeDash": {"field": "name", "type": "nominal", "scale": {"domain": ["无差异线（y=0）","均值线"], "range": [[4,3],[1,0]]}, "legend": null}
                     }}
                  ]
                },
                {
                  "width": 224, "height": 300,
                  "view": {"fill": "#eefaf4", "stroke": "#d3e8ea", "strokeWidth": 1},
                  "data": {"name": "summary"},
                  "encoding": {
                    "x": {"datum": 19, "type": "quantitative", "scale": {"domain": [0, 224], "nice": false}, "axis": null},
                    "y": {"field": "line", "type": "quantitative", "scale": {"domain": [-0.667, 13.62], "reverse": true, "nice": false, "zero": false}, "axis": null},
                    "text": {"field": "text"}
                  },
                  "layer": [
                    {"transform": [{"filter": "datum.kind === 'head'"}], "mark": {"type": "text", "align": "left", "baseline": "middle", "font": "Noto Sans CJK SC", "fontSize": 9.5, "color": "#35606a"}},
                    {"transform": [{"filter": "datum.kind === 'body'"}], "mark": {"type": "text", "align": "left", "baseline": "middle", "font": "Noto Sans CJK SC", "fontSize": 8.8, "color": "#555555"}},
                    {"transform": [{"filter": "datum.kind === 'sub'"}], "mark": {"type": "text", "align": "left", "baseline": "middle", "font": "Noto Sans CJK SC", "fontSize": 9.2, "color": "#2a8a74"}},
                    {"transform": [{"filter": "datum.kind === 'res'"}], "mark": {"type": "text", "align": "left", "baseline": "middle", "font": "Noto Sans CJK SC", "fontSize": 13, "color": "#2a6e6e"}}
                  ]
                }
              ]
            }]
          }
        ]
      }
    ]
  }
]
}
